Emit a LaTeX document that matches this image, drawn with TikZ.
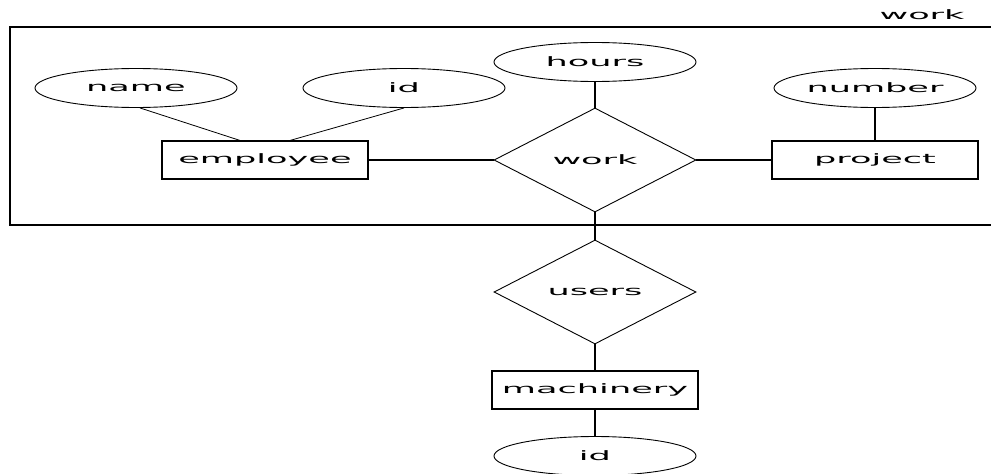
\documentclass[tikz,border=0pt]{standalone}
\usepackage{fontspec}
\setmainfont{DejaVu Sans}[FakeStretch=2.7]
\usetikzlibrary{shapes.geometric,calc}
\tikzset{
  every node/.style={font=\fontsize{13}{15}\selectfont},
  erline/.style={line width=1.1pt},
  entity/.style={draw, erline, rectangle, inner sep=0pt, minimum width=206pt, minimum height=38pt},
  attr/.style={draw, line width=0.9pt, ellipse, inner sep=0pt, minimum width=202pt, minimum height=39pt},
  rel/.style={draw, line width=0.9pt, diamond, inner sep=0pt, minimum width=202pt, minimum height=104pt},
}
\begin{document}
\begin{tikzpicture}[x=1pt,y=-1pt]
  \useasboundingbox (0,0) rectangle (991,474);
  % aggregation box around the work relationship
  \draw[erline] (10,27) rectangle (1000,225);
  \node (agg) at (922,15) {work};
  % attributes
  \node[attr] (name) at (136,88) {name};
  \node[attr] (eid) at (404,88) {id};
  \node[attr] (hours) at (595,62) {hours};
  \node[attr] (number) at (875,88) {number};
  % entities and relationships
  \node[entity] (employee) at (265,160) {employee};
  \node[rel] (work) at (595,160) {work};
  \node[entity] (project) at (875,160) {project};
  \node[rel] (users) at (595,292) {users};
  \node[entity] (machinery) at (595,390) {machinery};
  \node[attr] (mid) at (595,456) {id};
  % connectors
  \draw[line width=0.8pt] ($(name.south)+(4,0)$) -- ($(employee.north)+(-25,0)$);
  \draw[line width=0.8pt] (eid.south) -- ($(employee.north)+(25,0)$);
  \draw[erline] (hours) -- (work);
  \draw[erline] (employee) -- (work);
  \draw[erline] (work) -- (project);
  \draw[erline] (number) -- (project);
  \draw[erline] (work) -- (users);
  \draw[erline] (users) -- (machinery);
  \draw[erline] (machinery) -- (mid);
\end{tikzpicture}
\end{document}
